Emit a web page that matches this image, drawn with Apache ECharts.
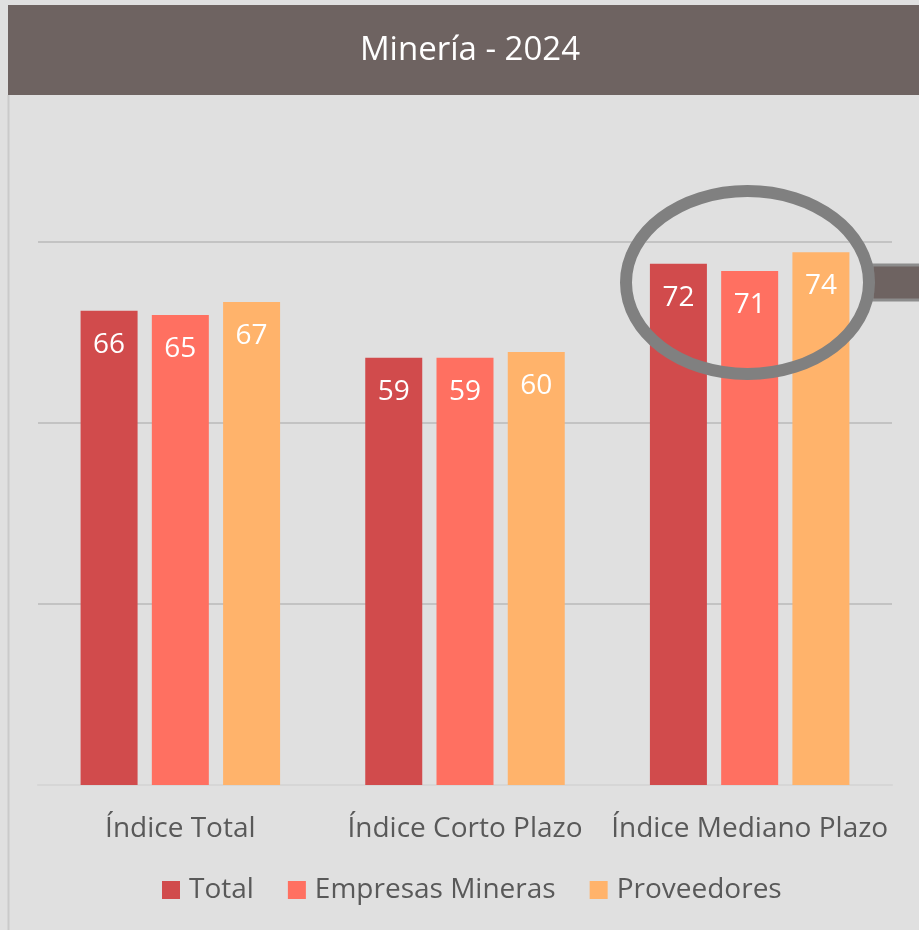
<!DOCTYPE html>
<html>
<head>
<meta charset="utf-8">
<script src="https://cdn.jsdelivr.net/npm/echarts@6/dist/echarts.min.js"></script>
<style>
  html, body { margin: 0; padding: 0; background: #e0e0e0; }
  #chart { width: 919px; height: 930px; }
</style>
</head>
<body>
<div id="chart"></div>
<script>
const categories = ['Índice Total', 'Índice Corto Plazo', 'Índice Mediano Plazo']
const totalData = [65.5, 59, 72]
const empresasData = [64.9, 59, 71]
const proveedoresData = [66.7, 59.8, 73.6]

const seriesList = [
  { name: 'Total', data: totalData, color: '#d14b4c' },
  { name: 'Empresas Mineras', data: empresasData, color: '#ff7061' },
  { name: 'Proveedores', data: proveedoresData, color: '#ffb36b' }
]

const font = '"Open Sans", "Noto Sans", sans-serif'
const chart = echarts.init(document.getElementById('chart'))

chart.setOption({
  backgroundColor: '#e0e0e0',
  animation: false,
  title: {
    text: 'Minería - 2024',
    left: 465,
    textAlign: 'center',
    top: 29,
    textStyle: { color: '#fff', fontSize: 33, fontWeight: 'normal', fontFamily: font }
  },
  legend: {
    left: 157,
    top: 871,
    itemWidth: 18,
    itemHeight: 18,
    itemGap: 34,
    icon: 'rect',
    textStyle: { color: '#595959', fontSize: 28, fontFamily: font, padding: [0, 0, 0, 4] },
    data: seriesList.map(s => s.name)
  },
  grid: { left: 38, right: 27, top: 242, bottom: 145 },
  xAxis: {
    type: 'category',
    data: categories,
    axisTick: { show: false },
    axisLine: { lineStyle: { color: '#d6d6d6', width: 2 } },
    axisLabel: { interval: 0, color: '#595959', fontSize: 28, fontFamily: font, margin: 30 }
  },
  yAxis: {
    type: 'value',
    min: 0,
    max: 75,
    interval: 25,
    axisLabel: { show: false },
    axisLine: { show: false },
    axisTick: { show: false },
    splitLine: { lineStyle: { color: '#c3c3c3', width: 2 } }
  },
  graphic: [
    { type: 'rect', z: 0, shape: { x: 8, y: 5, width: 915, height: 90 }, style: { fill: '#6e6361' } },
    { type: 'line', z: 0, shape: { x1: 8.5, y1: 95, x2: 8.5, y2: 930 }, style: { stroke: '#cacaca', lineWidth: 2 } },
    { type: 'rect', z: 10, shape: { x: 872, y: 265, width: 55, height: 35 }, style: { fill: '#6e6361', stroke: '#8c8c8c', lineWidth: 3 } },
    { type: 'ellipse', z: 11, shape: { cx: 747.5, cy: 282.5, rx: 121.5, ry: 91.5 }, style: { fill: 'none', stroke: '#808080', lineWidth: 12 } }
  ],
  series: seriesList.map(s => ({
    name: s.name,
    type: 'bar',
    data: s.data,
    barWidth: 57,
    barGap: '25%',
    itemStyle: { color: s.color },
    label: {
      show: true,
      position: 'insideTop',
      distance: 20,
      color: '#fff',
      fontSize: 28,
      fontFamily: font,
      formatter: p => Math.round(p.value)
    }
  }))
})
</script>
</body>
</html>
